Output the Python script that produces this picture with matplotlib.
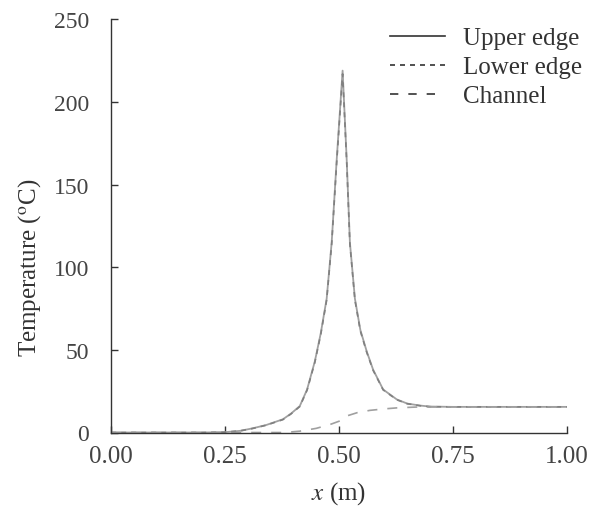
import matplotlib
matplotlib.use("Agg")
import matplotlib.pyplot as plt
from matplotlib.lines import Line2D

plt.rcParams['font.family'] = ['Liberation Serif', 'DejaVu Serif']
plt.rcParams['mathtext.fontset'] = 'stix'

# values
x_upper = [0.0, 0.20, 0.25, 0.283, 0.31, 0.34, 0.377, 0.395, 0.414, 0.43, 0.447,
           0.46, 0.473, 0.484, 0.495, 0.508, 0.517, 0.524, 0.535, 0.547, 0.561,
           0.575, 0.597, 0.627, 0.65, 0.678, 0.70, 0.75, 1.0]
t_upper = [0.0, 0.0, 0.2, 1.0, 2.5, 4.5, 8.0, 11.5, 16.0, 26.0, 43.0,
           60.0, 81.0, 115.0, 165.0, 219.0, 165.0, 115.0, 81.0, 62.0, 49.0,
           38.0, 26.0, 20.0, 17.5, 16.3, 15.7, 15.5, 15.5]

x_lower = x_upper
t_lower = [0.0, 0.0, 0.2, 1.0, 2.4, 4.4, 7.8, 11.3, 15.7, 25.6, 42.4,
           59.3, 80.2, 114.0, 163.5, 217.0, 163.5, 114.0, 80.2, 61.4, 48.5,
           37.6, 25.8, 19.8, 17.4, 16.2, 15.6, 15.5, 15.5]

x_channel = [0.0, 0.38, 0.414, 0.45, 0.48, 0.502, 0.517, 0.54, 0.568, 0.60, 0.627, 0.67, 0.75, 1.0]
t_channel = [0.0, 0.0, 0.8, 2.5, 4.8, 7.0, 10.0, 12.0, 13.4, 14.3, 14.9, 15.4, 15.5, 15.5]

labels = ['Upper edge', 'Lower edge', 'Channel']
xticks = [0.0, 0.25, 0.5, 0.75, 1.0]
yticks = [0, 50, 100, 150, 200, 250]

fig = plt.figure(figsize=(6.01, 5.10), dpi=100)
ax = fig.add_axes([0.185, 0.15, 0.758, 0.81])

curve_col = '#a0a0a0'
ax.plot(x_upper, t_upper, color=curve_col, lw=1.3, ls='-')
ax.plot(x_lower, t_lower, color='#808080', lw=1.2, ls=(0, (3, 3)))
ax.plot(x_channel, t_channel, color=curve_col, lw=1.2, ls=(0, (6, 6)))

ax.set_xlim(0, 1.0)
ax.set_ylim(0, 250)
ax.set_xticks(xticks)
ax.set_xticklabels(['%.2f' % v for v in xticks])
ax.set_yticks(yticks)
ax.spines['top'].set_visible(False)
ax.spines['right'].set_visible(False)
for s in ['left', 'bottom']:
    ax.spines[s].set_color('#333333')
    ax.spines[s].set_linewidth(1.0)
ax.tick_params(direction='in', length=5, width=1.0, colors='#333333',
               labelsize=18, labelcolor='#444444')
ax.tick_params(axis='x', pad=9)
ax.tick_params(axis='y', pad=16, labelsize=17)

ax.set_xlabel('$x$ (m)', fontsize=18, color='#333333', labelpad=9)
ax.set_ylabel('Temperature ($^{\\mathrm{o}}$C)', fontsize=18, color='#333333')
ax.yaxis.set_label_coords(-0.15, 0.40)

handles = [Line2D([], [], color='#333333', lw=1.2, ls='-'),
           Line2D([], [], color='#333333', lw=1.2, ls=(0, (3, 3))),
           Line2D([], [], color='#333333', lw=1.2, ls=(0, (5, 6)))]
leg = fig.legend(handles, labels, loc='upper right', bbox_to_anchor=(0.985, 0.965),
                 frameon=False, fontsize=18, handlelength=2.2,
                 handletextpad=0.7, labelspacing=0.26, borderaxespad=0)
for t in leg.get_texts():
    t.set_color('#333333')

fig.savefig('out.png', dpi=100)
